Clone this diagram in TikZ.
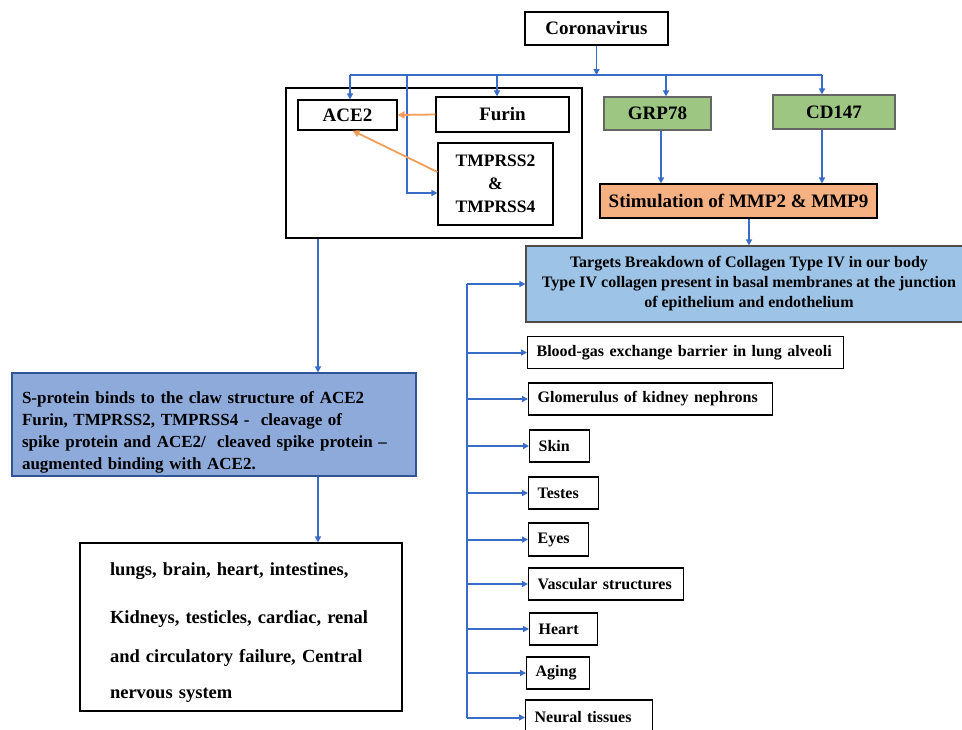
\documentclass[tikz,border=0pt]{standalone}
\usepackage{fontspec}
\setmainfont{Liberation Serif}
\usetikzlibrary{arrows.meta,calc}
\definecolor{ablue}{RGB}{56,108,200}
\definecolor{aorange}{RGB}{242,158,90}
\definecolor{gfill}{RGB}{157,198,130}
\definecolor{ofill}{RGB}{246,177,131}
\definecolor{tfill}{RGB}{157,195,230}
\definecolor{sfill}{RGB}{142,170,219}
\definecolor{sdraw}{RGB}{47,85,151}
\newcommand{\fs}[2]{\fontsize{#1}{#2}\selectfont\bfseries}
\tikzset{
  box/.style={draw=black, line width=1.2pt, fill=white, align=center, inner sep=0pt},
  gbox/.style={box, draw=black!60, fill=gfill},
  item/.style={box, anchor=west, minimum height=32pt, inner xsep=9pt, align=left, font=\fs{16}{19}},
  bl/.style={draw=ablue, line width=2pt},
  ba/.style={bl, -{Triangle[length=6pt,width=6pt]}},
  oa/.style={draw=aorange, line width=1.8pt, -{Triangle[length=7pt,width=7pt]}}
}
\begin{document}
\begin{tikzpicture}[x=1pt,y=-1pt]
\clip (0,0) rectangle (962,729);
\fill[white] (0,0) rectangle (962,729);

% top
\node[box, minimum width=143pt, minimum height=33pt, font=\fs{19}{22}] (corona) at (596.5,28.5) {Coronavirus};
\node[box, minimum width=296pt, minimum height=150pt] (outer) at (434,163) {};
\node[box, minimum width=99pt, minimum height=30pt, font=\fs{19}{22}] (ace2) at (347.5,115) {ACE2};
\node[box, minimum width=133pt, minimum height=35pt, font=\fs{19}{22}] (furin) at (502.5,114.5) {Furin};
\node[box, minimum width=115pt, minimum height=82pt, font=\fs{17.5}{23}] (tmp) at (495.5,184) {TMPRSS2\\\&\\TMPRSS4};
\node[gbox, minimum width=107pt, minimum height=33pt, font=\fs{19}{22}] (grp) at (657.5,113.5) {GRP78};
\node[gbox, minimum width=122pt, minimum height=34pt, font=\fs{19}{22}] (cd) at (834,112) {CD147};
\node[box, fill=ofill, minimum width=277pt, minimum height=34pt, font=\fs{19}{22}] (stim) at (738.5,201) {Stimulation of MMP2 \& MMP9};
\node[box, draw=black!70, fill=tfill, minimum width=446pt, minimum height=76pt, font=\fs{16}{20}] (targ) at (749,284)
  {Targets Breakdown of Collagen Type IV in our body\\Type IV collagen present in basal membranes at the junction\\of epithelium and endothelium};

% left column
\node[box, draw=sdraw, fill=sfill, minimum height=103pt, text width=384pt, inner xsep=10pt, align=left, font=\fs{17}{22}] (sprot) at (214,424.5)
  {\rule{0pt}{28pt}S-protein binds to the claw structure of ACE2\\Furin, TMPRSS2, TMPRSS4 -\ \ cleavage of\\spike protein and ACE2/\ \ cleaved spike protein --\\augmented binding with ACE2.};
\node[box, minimum height=168pt, text width=262pt, inner xsep=30pt, align=left, font=\fs{18.5}{22}] (organs) at (241,627)
  {\rule{0pt}{24pt}lungs, brain, heart, intestines,\\[26pt]Kidneys, testicles, cardiac, renal\\[17pt]and circulatory failure, Central\\[14pt]nervous system};

% right items
\node[item, text width=298pt] (b1) at (527,352.5) {Blood-gas exchange barrier in lung alveoli};
\node[item, text width=226pt] (b2) at (528,399) {Glomerulus of kidney nephrons};
\node[item, text width=42pt] (b3) at (529,446) {Skin};
\node[item, text width=52pt] (b4) at (528,493) {Testes};
\node[item, text width=42pt, minimum height=33pt] (b5) at (528,539.5) {Eyes};
\node[item, text width=137pt] (b6) at (528,584) {Vascular structures};
\node[item, text width=50pt] (b7) at (529,629) {Heart};
\node[item, text width=45pt] (b8) at (526,673) {Aging};
\node[item, text width=109pt, minimum height=35pt] (b9) at (525,717.5) {Neural tissues};

% coordinates
\coordinate (busL) at (350,75);
\coordinate (busR) at (822,75);
\coordinate (tb) at (407,75);
\coordinate (fb) at (497,75);
\coordinate (gb) at (666,75);
\coordinate (g2) at (661,0);
\coordinate (s1) at (318,0);
\coordinate (lb) at (467,0);

% top connectors
\draw[ba, line width=1.3pt] (corona.south) -- (corona.south |- busL);
\draw[bl] (busL) -- (busR);
\draw[ba] (busL) -- (busL |- ace2.north);
\draw[ba] (tb) |- ([yshift=-9pt]tmp.west);
\draw[ba] (fb) -- (fb |- furin.north);
\draw[ba] (gb) -- (gb |- grp.north);
\draw[ba] (busR) -- (busR |- cd.north);
\draw[oa] (furin.west) -- (ace2.east);
\draw[oa] ([yshift=12pt]tmp.west) -- ([xshift=5pt]ace2.south);
\draw[ba] (g2 |- grp.south) -- (g2 |- stim.north);
\draw[ba] (busR |- cd.south) -- (busR |- stim.north);
\draw[ba] (targ.north |- stim.south) -- (targ.north);

% left connectors
\draw[ba, line width=1.4pt] (s1 |- outer.south) -- (s1 |- sprot.north);
\draw[ba, line width=1.4pt] (s1 |- sprot.south) -- (s1 |- organs.north);

% bus on the right side
\draw[bl] (lb |- targ.west) -- (lb |- b9.west);
\draw[ba] (lb |- targ.west) -- (targ.west);
\foreach \b in {b1,b2,b3,b4,b5,b6,b7,b8,b9}
  \draw[ba] (lb |- \b.west) -- (\b.west);
\end{tikzpicture}
\end{document}
